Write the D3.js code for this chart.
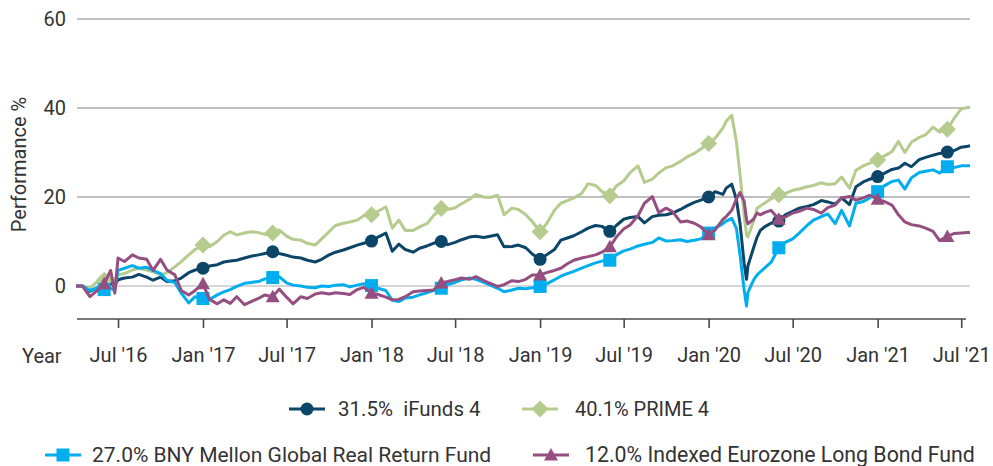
<!DOCTYPE html>
<html>
<head>
<meta charset="utf-8">
<script src="https://cdn.jsdelivr.net/npm/d3@7"></script>
<style>
  html, body { margin: 0; padding: 0; background: #fff; }
  svg text { font-family: Roboto, "DejaVu Sans", sans-serif; fill: #333; }
</style>
</head>
<body>
<svg id="chart" width="993" height="466"></svg>
<script>
// Observation dates (semi-monthly, with extra points around Jun 2016 and the Mar 2020 sell-off)
const dates = [
  "2016-04-01","2016-04-15","2016-05-01","2016-05-15","2016-06-01","2016-06-15","2016-06-24","2016-07-01","2016-07-15","2016-08-01","2016-08-15","2016-09-01","2016-09-15","2016-10-01","2016-10-15","2016-11-01","2016-11-15","2016-12-01","2016-12-15",
  "2017-01-01","2017-01-15","2017-02-01","2017-02-15","2017-03-01","2017-03-15","2017-04-01","2017-04-15","2017-05-01","2017-05-15","2017-06-01","2017-06-15","2017-07-01","2017-07-15","2017-08-01","2017-08-15","2017-09-01","2017-09-15","2017-10-01","2017-10-15","2017-11-01","2017-11-15","2017-12-01","2017-12-15",
  "2018-01-01","2018-01-15","2018-02-01","2018-02-15","2018-03-01","2018-03-15","2018-04-01","2018-04-15","2018-05-01","2018-05-15","2018-06-01","2018-06-15","2018-07-01","2018-07-15","2018-08-01","2018-08-15","2018-09-01","2018-09-15","2018-10-01","2018-10-15","2018-11-01","2018-11-15","2018-12-01","2018-12-15",
  "2019-01-01","2019-01-15","2019-02-01","2019-02-15","2019-03-01","2019-03-15","2019-04-01","2019-04-15","2019-05-01","2019-05-15","2019-06-01","2019-06-15","2019-07-01","2019-07-15","2019-08-01","2019-08-15","2019-09-01","2019-09-15","2019-10-01","2019-10-15","2019-11-01","2019-11-15","2019-12-01","2019-12-15",
  "2020-01-01","2020-01-15","2020-02-01","2020-02-08","2020-02-20","2020-03-01","2020-03-09","2020-03-18","2020-03-23","2020-03-26","2020-04-07","2020-04-15","2020-04-22","2020-05-01","2020-05-15","2020-06-01","2020-06-15","2020-07-01","2020-07-15","2020-08-01","2020-08-15","2020-09-01","2020-09-15","2020-10-01","2020-10-15","2020-11-01","2020-11-15","2020-12-01","2020-12-15",
  "2021-01-01","2021-01-15","2021-02-01","2021-02-15","2021-03-01","2021-03-15","2021-04-01","2021-04-15","2021-05-01","2021-05-15","2021-06-01","2021-06-15","2021-07-01","2021-07-15","2021-07-20"
];

// Cumulative performance, %
const iFunds4 = [
  0, 0, -1.2, -0.5, -0.3, 0.5, 0.2, 1.4, 1.8, 2.0, 2.6, 2.0, 1.3, 2.0, 1.0, 1.2, 1.8, 3.0, 3.6,
  4.0, 4.5, 4.8, 5.4, 5.6, 5.8, 6.3, 6.7, 7.0, 7.3, 7.7, 7.3, 6.9, 6.5, 6.3, 5.8, 5.4, 6.0, 7.0, 7.6, 8.1, 8.6, 9.2, 9.6,
  10.1, 11.0, 11.9, 7.8, 9.4, 8.2, 7.6, 8.5, 9.0, 9.6, 10.0, 9.3, 9.8, 10.4, 11.0, 11.2, 10.9, 11.2, 11.5, 8.8, 8.9, 9.2, 8.6, 7.2,
  6.0, 7.0, 8.2, 10.3, 10.8, 11.3, 12.2, 13.0, 13.6, 13.4, 12.3, 13.6, 15.0, 15.4, 15.6, 14.2, 15.6, 15.9, 16.0, 16.4, 17.2, 18.0, 18.8, 19.3,
  20.0, 21.2, 20.6, 22.0, 22.9, 19.5, 14.0, 5.0, 1.5, 4.5, 8.5, 11.0, 12.5, 13.3, 14.1, 14.6, 16.0, 16.8, 17.5, 17.9, 18.3, 19.2, 18.9, 18.4, 19.8, 18.3, 22.3, 23.4, 24.0,
  24.6, 25.3, 26.2, 26.5, 27.6, 26.8, 28.4, 28.9, 29.4, 29.8, 30.1, 30.4, 31.2, 31.4, 31.5
];
const prime4 = [
  0, 0, -0.5, 0.8, 1.3, 1.8, 1.5, 2.5, 2.8, 3.6, 4.0, 3.6, 3.2, 2.5, 3.0, 4.3, 5.5, 7.0, 8.2,
  9.2, 8.8, 10.0, 11.4, 12.2, 11.5, 11.9, 12.2, 12.0, 11.6, 11.9, 12.6, 11.2, 10.5, 10.3, 9.6, 9.2, 10.6, 12.2, 13.6, 14.1, 14.4, 14.8, 15.8,
  16.0, 16.8, 17.8, 13.0, 14.8, 12.5, 12.5, 13.3, 14.0, 15.8, 17.4, 17.2, 17.6, 18.5, 19.5, 20.6, 20.0, 19.9, 20.4, 16.0, 17.5, 17.2, 16.0, 14.5,
  12.2, 14.0, 17.0, 18.6, 19.2, 19.8, 20.8, 23.0, 22.6, 21.2, 20.3, 22.5, 23.6, 25.5, 27.0, 23.3, 24.0, 25.4, 26.6, 27.0, 28.0, 29.0, 29.8, 30.8,
  32.0, 33.2, 35.5, 37.0, 38.4, 32.5, 25.0, 16.0, 11.5, 11.0, 14.5, 17.5, 18.0, 18.6, 19.6, 20.5, 20.8, 21.5, 21.8, 22.3, 22.6, 23.2, 22.8, 23.0, 24.5, 22.0, 26.0, 27.0, 27.6,
  28.3, 29.2, 30.2, 32.5, 30.0, 32.3, 33.4, 34.0, 35.7, 34.6, 35.2, 37.6, 39.8, 40.1, 40.1
];
const bnyMellon = [
  0, 0, -1.0, -0.5, -0.8, -0.5, -1.0, 3.5, 4.0, 4.6, 4.0, 4.2, 3.5, 2.8, 1.3, 0.8, -1.6, -3.8, -2.4,
  -2.8, -3.0, -2.0, -1.3, -0.8, -0.1, 0.6, 0.8, 1.0, 1.6, 1.9, 2.1, 0.7, 0.2, 0.0, -0.3, -0.4, 0.0, -0.1, 0.2, 0.3, -0.2, 0.2, 0.5,
  0.1, -0.5, -1.0, -3.2, -3.5, -2.7, -2.5, -2.0, -1.5, -1.0, -0.5, 0.3, 0.8, 1.4, 1.8, 1.5, 0.8, 0.2, -0.5, -1.3, -0.9, -0.5, -0.6, -0.4,
  -0.1, 0.5, 1.4, 2.2, 2.8, 3.3, 4.0, 4.6, 5.2, 5.6, 5.8, 7.0, 7.9, 8.3, 9.0, 9.4, 9.8, 10.8, 10.1, 10.2, 10.4, 10.0, 10.3, 10.6,
  11.9, 13.0, 14.0, 14.6, 15.2, 13.0, 7.0, -1.0, -4.5, -1.5, 1.3, 2.5, 3.2, 4.0, 5.3, 8.6, 9.8, 10.6, 11.9, 13.6, 14.8, 15.6, 16.2, 14.0, 17.0, 13.5, 18.6, 19.0, 19.8,
  21.2, 22.5, 23.5, 23.8, 21.8, 24.3, 25.5, 25.8, 26.1, 25.4, 26.8, 26.6, 27.0, 27.0, 27.0
];
const indexedEurozone = [
  0, 0, -2.4, -1.2, 0.5, 3.5, -1.6, 6.3, 5.5, 7.0, 6.3, 6.0, 3.5, 6.0, 3.6, 2.5, -1.0, -2.0, -1.0,
  0.5, -3.0, -4.0, -3.1, -3.9, -2.4, -4.2, -3.5, -2.8, -2.0, -2.4, -0.7, -2.5, -4.0, -2.4, -2.8, -1.8, -1.5, -1.8, -1.5, -1.7, -1.9, -0.8, -0.3,
  -1.6, -1.9, -2.5, -3.1, -3.0, -2.4, -1.3, -1.1, -1.0, -0.9, 0.7, 1.0, 1.4, 1.8, 1.5, 2.1, 1.2, 0.6, -0.1, 0.3, 1.2, 1.0, 1.5, 2.5,
  2.5, 3.0, 3.5, 4.0, 5.0, 5.8, 6.3, 6.6, 7.0, 7.6, 8.8, 11.0, 12.8, 13.7, 15.8, 18.6, 20.1, 16.5, 17.5, 16.7, 14.4, 14.6, 14.1, 13.3,
  11.5, 12.6, 15.0, 15.6, 17.0, 19.5, 21.0, 19.0, 15.0, 14.0, 15.0, 16.4, 16.0, 16.5, 17.0, 15.0, 15.5, 16.4, 16.8, 17.5, 17.2, 16.4, 17.6, 18.2, 19.8, 20.1, 19.3, 19.8, 20.4,
  19.5, 19.0, 18.2, 16.0, 14.4, 13.8, 13.5, 13.0, 12.3, 10.2, 11.1, 11.8, 11.9, 12.0, 12.0
];

const seriesNames = ["31.5%  iFunds 4", "40.1% PRIME 4", "27.0% BNY Mellon Global Real Return Fund", "12.0% Indexed Eurozone Long Bond Fund"];
const seriesColors = ["#0b4669", "#b5cc8e", "#00aeef", "#944f80"];
const seriesSymbols = ["circle", "diamond", "square", "triangle"];

// Dates carrying a marker on every line
const markerDates = ["2016-06-01","2017-01-01","2017-06-01","2018-01-01","2018-06-01","2019-01-01","2019-06-01","2020-01-01","2020-06-01","2021-01-01","2021-06-01"];

const xTickDates = ["2016-07-01","2017-01-01","2017-07-01","2018-01-01","2018-07-01","2019-01-01","2019-07-01","2020-01-01","2020-07-01","2021-01-01","2021-07-01"];
const xTickLabels = ["Jul '16","Jan '17","Jul '17","Jan '18","Jul '18","Jan '19","Jul '19","Jan '20","Jul '20","Jan '21","Jul '21"];
const yTicks = [0, 20, 40, 60];

const parse = d3.utcParse("%Y-%m-%d");
const svg = d3.select("#chart");

const x = d3.scaleUtc()
  .domain([parse(dates[0]), parse(dates[dates.length - 1])])
  .range([76, 970]);
const y = d3.scaleLinear().domain([-7.5, 60]).range([319.4, 19]);

const allSeries = [iFunds4, prime4, bnyMellon, indexedEurozone].map((vals, i) => ({
  name: seriesNames[i],
  color: seriesColors[i],
  symbol: seriesSymbols[i],
  points: vals.map((v, j) => ({ date: parse(dates[j]), key: dates[j], v }))
}));

// Marker shapes, centred on 0,0
function symbolPath(type) {
  switch (type) {
    case "circle": return "M-6.5,0A6.5,6.5 0 1,0 6.5,0A6.5,6.5 0 1,0 -6.5,0Z";
    case "square": return "M-6.5,-6.5H6.5V6.5H-6.5Z";
    case "diamond": return "M0,-8.5L8.5,0L0,8.5L-8.5,0Z";
    case "triangle": return "M0,-7L7,5.5H-7Z";
  }
}

// Gridlines
const grid = svg.append("g");
grid.selectAll("line").data(yTicks).join("line")
  .attr("x1", 77).attr("x2", 970)
  .attr("y1", d => y(d)).attr("y2", d => y(d))
  .attr("stroke", d => d === 0 ? "#d6d6d6" : "#ababab")
  .attr("stroke-width", d => d === 0 ? 2.2 : 1.4);

// Y axis labels
svg.append("g").selectAll("text").data(yTicks).join("text")
  .attr("x", 66).attr("y", d => y(d)).attr("dy", "0.35em")
  .attr("text-anchor", "end").attr("font-size", 20)
  .text(d => d);

svg.append("text")
  .attr("transform", `translate(26,${(y(0) + y(60)) / 2 + 12}) rotate(-90)`)
  .attr("text-anchor", "middle").attr("font-size", 20)
  .text("Performance %");

// X axis
const xAxis = d3.axisBottom(x)
  .tickValues(xTickDates.map(parse))
  .tickSize(9)
  .tickPadding(20)
  .tickFormat((d, i) => xTickLabels[i]);
const gx = svg.append("g").attr("transform", "translate(0,319)").call(xAxis);
gx.select(".domain").remove();
gx.append("line").attr("x1", 77).attr("x2", 966).attr("y1", 0).attr("y2", 0)
  .attr("stroke", "#4a4a4a").attr("stroke-width", 1.6);
gx.selectAll(".tick line").attr("stroke", "#4a4a4a").attr("stroke-width", 1.6);
gx.selectAll(".tick text").attr("font-size", 20).attr("fill", "#333")
  .style("font-family", "Roboto, 'DejaVu Sans', sans-serif");

svg.append("text").attr("x", 22).attr("y", 363).attr("font-size", 20).text("Year");

// Lines and markers
const line = d3.line().x(d => x(d.date)).y(d => y(d.v));
const plot = svg.append("g");
allSeries.forEach(s => {
  const g = plot.append("g");
  g.append("path").datum(s.points)
    .attr("d", line).attr("fill", "none")
    .attr("stroke", s.color).attr("stroke-width", 3)
    .attr("stroke-linejoin", "round");
  g.selectAll("path.mk").data(s.points.filter(p => markerDates.includes(p.key))).join("path")
    .attr("class", "mk")
    .attr("d", symbolPath(s.symbol))
    .attr("transform", p => `translate(${x(p.date)},${y(p.v)})`)
    .attr("fill", s.color);
});

// Legend: [line start x, row centre y, text x]
const legendPos = [[289, 409, 338], [522, 409, 575], [45, 455, 92], [533, 455, 585]];
const legendFont = [20.5, 20, 21, 21.3];
const legend = svg.append("g");
allSeries.forEach((s, i) => {
  const [lx, ly, tx] = legendPos[i];
  legend.append("line").attr("x1", lx).attr("x2", lx + 36).attr("y1", ly).attr("y2", ly)
    .attr("stroke", s.color).attr("stroke-width", 3);
  legend.append("path").attr("d", symbolPath(s.symbol))
    .attr("transform", `translate(${lx + 18},${ly})`).attr("fill", s.color);
  legend.append("text").attr("x", tx).attr("y", ly).attr("dy", "0.35em")
    .attr("font-size", legendFont[i]).style("white-space", "pre")
    .text(s.name);
});
</script>
</body>
</html>
